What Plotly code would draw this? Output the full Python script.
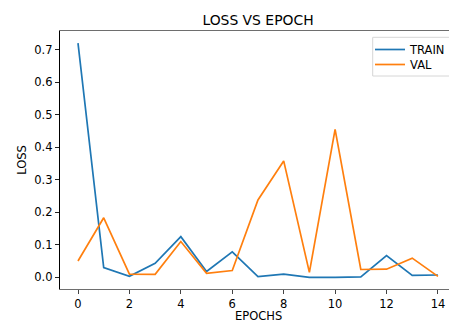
import plotly.graph_objects as go

epochs = list(range(15))
train_loss = [0.72, 0.030, 0.003, 0.043, 0.125, 0.018, 0.078, 0.002, 0.010, 0.000, 0.000, 0.001, 0.067, 0.006, 0.007]
val_loss = [0.050, 0.183, 0.010, 0.009, 0.110, 0.012, 0.021, 0.238, 0.358, 0.015, 0.455, 0.024, 0.025, 0.059, 0.003]
y_ticks = [0.0, 0.1, 0.2, 0.3, 0.4, 0.5, 0.6, 0.7]
x_ticks = [0, 2, 4, 6, 8, 10, 12, 14]

FONT = "DejaVu Sans"
W, H = 449, 321
L, T, B = 60, 31, 32
PH = H - T - B

fig = go.Figure()
fig.add_trace(go.Scatter(x=epochs, y=train_loss, mode="lines", name="TRAIN",
                         line=dict(color="#1f77b4", width=1.7), legend="legend"))
fig.add_trace(go.Scatter(x=epochs, y=val_loss, mode="lines", name="VAL",
                         line=dict(color="#ff7f0e", width=1.7), legend="legend2"))

leg_common = dict(xanchor="left", yanchor="middle", bgcolor="rgba(0,0,0,0)", borderwidth=0,
                  font=dict(size=11.5, family=FONT, color="black"), itemwidth=30)
lx = (370 - L) / (W - L)

fig.update_layout(
    width=W, height=H,
    margin=dict(l=L, r=0, t=T, b=B, autoexpand=False),
    paper_bgcolor="white", plot_bgcolor="white",
    font=dict(family=FONT, size=11.5, color="black"),
    title=dict(text="LOSS VS EPOCH", x=258 / W, xanchor="center", y=1 - 20 / H, yanchor="middle",
               font=dict(size=13.9, family=FONT, color="black")),
    showlegend=True,
    legend=dict(x=lx, y=(H - B - 49.5) / PH, **leg_common),
    legend2=dict(x=lx, y=(H - B - 64.5) / PH, **leg_common),
    shapes=[dict(type="rect", xref="paper", yref="paper",
                 x0=(372.7 - L) / (W - L), x1=1.05,
                 y0=(H - B - 76) / PH, y1=(H - B - 37.3) / PH,
                 line=dict(color="#d6d6d6", width=1), fillcolor="rgba(255,255,255,0.8)",
                 layer="above")],
    annotations=[dict(text="EPOCHS", xref="paper", yref="paper",
                      x=(258 - L) / (W - L), y=-(315.5 - (H - B)) / PH,
                      xanchor="center", yanchor="middle", showarrow=False,
                      font=dict(size=11.5, family=FONT, color="black"))],
)
fig.update_xaxes(range=[-0.7, 14.43], tickmode="array", tickvals=x_ticks, automargin=False,
                 showgrid=False, zeroline=False, showline=True, linecolor="#6e6e6e", linewidth=1.4,
                 mirror=True, ticks="outside", ticklen=4, tickcolor="#444", tickwidth=1)
fig.update_yaxes(range=[-0.036, 0.7576], tickmode="array", tickvals=y_ticks, automargin=False,
                 tickformat=".1f", showgrid=False, zeroline=False, showline=True,
                 linecolor="black", linewidth=1.2, mirror=False, ticks="outside", ticklen=4,
                 tickcolor="#222", tickwidth=1, title=dict(text="LOSS", standoff=5, font=dict(size=11.5)))

post = ("document.documentElement.style.overflow='hidden';"
        "document.body.style.margin='0';document.body.style.overflow='hidden';")
fig.write_html("out.html", post_script=post, config={"displayModeBar": False})
